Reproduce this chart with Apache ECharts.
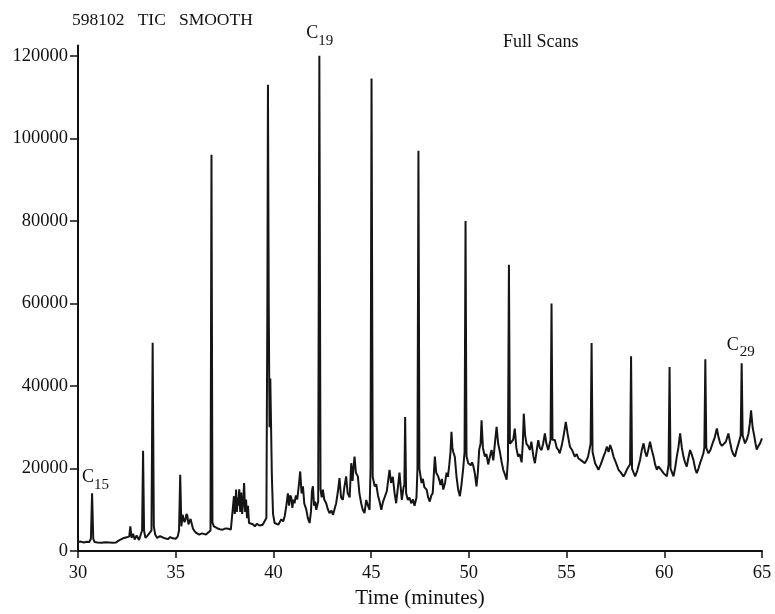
<!DOCTYPE html>
<html>
<head>
<meta charset="utf-8">
<script src="https://cdn.jsdelivr.net/npm/echarts@6/dist/echarts.min.js"></script>
<style>
html,body{margin:0;padding:0;background:#fff;}
#chart{width:775px;height:614px;}
</style>
</head>
<body>
<div id="chart"></div>
<script>
// TIC trace: [retention time (min), intensity]
const ticTrace = [
[30.00,2200],[30.15,2300],[30.30,2100],[30.45,2250],[30.58,2200],[30.66,3000],[30.72,14000],[30.78,3000],[30.85,2200],[31.00,2100],[31.20,2000],[31.40,2150],[31.60,2100],[31.80,2000],[31.95,2100],
[32.10,2600],[32.20,2800],[32.30,3100],[32.45,3300],[32.55,3000],[32.62,3500],[32.68,6000],[32.74,3200],[32.82,4200],[32.90,2800],[33.00,3800],[33.05,3600],[33.12,2700],[33.20,2900],[33.28,5000],[33.33,24300],[33.38,5000],[33.45,3200],[33.55,3700],[33.65,3300],[33.76,5000],[33.82,50500],[33.88,6000],[33.95,4000],[34.05,3200],[34.20,3600],[34.30,3300],[34.45,3100],[34.60,2900],[34.72,3400],[34.85,3100],[35.00,3000],[35.10,3500],[35.17,5000],[35.23,18500],[35.29,6000],[35.35,8800],[35.40,9200],[35.45,7000],[35.50,7600],[35.55,9000],[35.60,8500],[35.65,6500],[35.70,6900],[35.76,7800],[35.82,8000],[35.88,5500],[35.95,4900],[36.05,4400],[36.20,4000],[36.35,4300],[36.45,4200],[36.55,4000],[36.65,4100],[36.78,5000],[36.83,96000],[36.88,6900],[36.95,6000],[37.10,5600],[37.25,5300],[37.40,5200],[37.55,5500],[37.70,5400],[37.82,5200],[37.92,5600],
[37.98,13300],[38.02,9000],[38.05,10000],[38.09,14900],[38.13,9500],[38.17,13000],[38.20,11000],[38.25,15000],[38.30,9500],[38.35,14200],[38.40,9000],[38.45,12000],[38.50,16500],[38.55,9500],[38.60,12500],[38.65,8000],[38.70,11000],[38.75,6800],[38.85,7200],[38.95,6500],[39.05,6000],[39.15,6600],[39.30,6200],[39.45,6400],[39.55,6500],[39.64,8000],[39.69,60000],[39.72,113000],[39.76,60000],[39.80,30000],[39.84,41800],[39.88,30000],[39.92,18100],[39.98,9000],[40.06,6800],[40.15,7200],[40.25,6400],[40.32,7000],[40.40,7700],[40.50,7200],[40.58,8500],[40.66,11000],[40.74,14000],[40.80,11000],[40.86,13500],[40.91,13000],[40.97,10500],[41.02,12500],[41.08,11600],[41.15,13500],[41.22,12500],[41.30,16000],[41.37,19300],[41.44,14000],[41.51,15700],[41.58,11500],[41.68,10100],[41.76,8000],[41.85,6800],[41.92,9500],[41.97,14500],[42.02,15700],[42.08,11000],[42.14,12000],[42.19,10000],[42.29,12000],[42.35,120000],[42.41,14900],[42.47,13000],[42.53,14900],[42.60,12500],[42.70,11600],[42.78,10200],[42.87,9200],[42.97,9800],[43.05,8800],[43.13,8500],[43.21,11600],[43.30,14500],[43.38,17700],[43.46,13000],[43.55,12400],[43.63,15500],[43.72,18100],[43.80,14000],[43.90,13000],[43.98,21300],[44.05,17000],[44.10,20500],[44.15,22900],[44.22,19000],[44.32,18100],[44.40,14000],[44.49,11600],[44.57,10000],[44.66,9200],[44.75,12400],[44.84,11000],[44.92,10000],[44.97,20000],[45.02,114500],[45.08,18000],[45.18,15700],[45.26,16200],[45.35,13500],[45.43,12000],[45.52,10000],[45.60,11800],[45.69,11600],[45.80,14500],[45.94,19700],[46.02,16500],[46.11,18000],[46.20,14000],[46.28,11600],[46.36,15000],[46.45,19000],[46.52,15000],[46.57,12400],[46.66,15500],[46.70,16000],[46.74,32500],[46.79,14000],[46.88,12400],[46.96,13000],[47.05,11600],[47.14,12500],[47.22,11000],[47.32,13000],[47.37,20000],[47.42,97000],[47.47,20000],
[47.58,16500],[47.65,17500],[47.72,15500],[47.84,14900],[47.92,13000],[48.00,12000],[48.08,13500],[48.15,14000],[48.20,18000],[48.26,22900],[48.33,19000],[48.43,18100],[48.50,17000],[48.55,16000],[48.62,17500],[48.69,14900],[48.78,16500],[48.86,19000],[48.93,18000],[49.00,21000],[49.06,24000],[49.11,28900],[49.16,25000],[49.20,24000],[49.28,22900],[49.37,18000],[49.45,15000],[49.54,13300],[49.62,16000],[49.71,20000],[49.78,24000],[49.83,80000],[49.88,23000],[49.97,21300],[50.05,21500],[50.10,20800],[50.16,21500],[50.22,20800],[50.30,19000],[50.39,15700],[50.46,19000],[50.53,24600],[50.60,26000],[50.65,31700],[50.72,25000],[50.82,22900],[50.90,23500],[50.99,21000],[51.08,23000],[51.16,24500],[51.25,22000],[51.33,26000],[51.42,30100],[51.50,26000],[51.59,24000],[51.68,21500],[51.76,19700],[51.85,18500],[51.93,17300],[52.00,22000],[52.05,69400],[52.10,26000],[52.18,26100],[52.27,27000],[52.35,29700],[52.43,25000],[52.52,22900],[52.60,23500],[52.70,21500],[52.76,26000],[52.81,33300],[52.88,28000],[52.95,26000],[53.03,25500],[53.12,24500],[53.20,26500],[53.30,23000],[53.38,21300],[53.46,24000],[53.55,26900],[53.63,25000],[53.72,24500],[53.80,26000],[53.89,28500],[53.97,26000],[54.06,24500],[54.18,27000],[54.23,60000],[54.28,27000],[54.40,26900],[54.50,25000],[54.58,24500],[54.65,23700],[54.75,25500],[54.85,28000],[54.96,31300],[55.05,28500],[55.17,25300],[55.28,24500],[55.42,22900],[55.52,23500],[55.60,22500],[55.68,22100],[55.80,21800],[55.93,21300],[56.02,22000],[56.10,22900],[56.23,26000],[56.28,50400],[56.33,24000],[56.46,21300],[56.55,20500],[56.63,19700],[56.75,21000],[56.89,22900],[56.98,24000],[57.06,25300],[57.15,24000],[57.23,25700],[57.32,24500],[57.40,22900],[57.52,21500],[57.66,19700],[57.78,19000],[57.91,18100],[58.00,18800],[58.08,19700],[58.18,20500],[58.25,21000],[58.30,47200],[58.35,20000],[58.43,19000],[58.51,18100],[58.62,19500],[58.76,22100],[58.85,24500],[58.94,26100],[59.02,24000],[59.10,22900],[59.18,24500],[59.27,26500],[59.36,24500],[59.45,22900],[59.53,21000],[59.62,19700],[59.70,20500],[59.79,20500],[59.87,19500],[59.96,18900],[60.05,18500],[60.13,18100],[60.22,21000],[60.27,44600],[60.32,20000],[60.40,19000],[60.47,18100],[60.55,20000],[60.64,22900],[60.72,25000],[60.81,28500],[60.90,25000],[60.98,22900],[61.06,21500],[61.15,20500],[61.23,22500],[61.32,24500],[61.40,23500],[61.49,22100],[61.58,20000],[61.66,18900],[61.75,20000],[61.83,21300],[61.92,22500],[62.00,23700],[62.05,25000],[62.10,46500],[62.15,25000],[62.26,23700],[62.36,24500],[62.47,26100],[62.58,27500],[62.69,29700],[62.78,27500],[62.86,26100],[62.95,25500],[63.03,25300],[63.15,26500],[63.28,28500],[63.36,26500],[63.45,24500],[63.53,23500],[63.62,22900],[63.70,24500],[63.80,26100],[63.91,28000],[63.96,45500],[64.01,28000],[64.13,26100],[64.22,27000],[64.31,28500],[64.38,31000],[64.44,34100],[64.52,30000],[64.61,27700],[64.67,26000],[64.73,24600],[64.82,25500],[64.90,26100],[65.00,27300]
];
const xTicks = [30, 35, 40, 45, 50, 55, 60, 65];
const yTicks = [0, 20000, 40000, 60000, 80000, 100000, 120000];
// Labelled n-alkane peaks: [letter, subscript, time, intensity]
const peakLabels = [
  ['C', '15', 30.72, 14000],
  ['C', '19', 42.35, 120000],
  ['C', '29', 63.96, 45500]
];

const FONT = '"Liberation Serif", "DejaVu Serif", serif';
const chart = echarts.init(document.getElementById('chart'));

chart.setOption({
  animation: false,
  backgroundColor: '#ffffff',
  grid: { left: 78, right: 13, top: 45.5, bottom: 59, containLabel: false },
  xAxis: {
    type: 'value', min: 30, max: 65, interval: 5,
    name: 'Time (minutes)', nameLocation: 'middle', nameGap: 36,
    nameTextStyle: { fontFamily: FONT, fontSize: 21, color: '#111' },
    axisLine: { show: true, onZero: false, lineStyle: { color: '#111', width: 2 } },
    axisTick: { show: true, length: 7, lineStyle: { color: '#111', width: 1.5 }, customValues: xTicks },
    axisLabel: { fontFamily: FONT, fontSize: 18.5, color: '#111', margin: 13, customValues: xTicks },
    splitLine: { show: false }
  },
  yAxis: {
    type: 'value', min: 0, max: 122500, interval: 20000,
    axisLine: { show: true, lineStyle: { color: '#111', width: 2 } },
    axisTick: { show: true, length: 8, lineStyle: { color: '#111', width: 1.5 }, customValues: yTicks },
    axisLabel: { fontFamily: FONT, fontSize: 18.5, color: '#111', margin: 10, customValues: yTicks,
      formatter: v => String(v) },
    splitLine: { show: false }
  },
  series: [{
    type: 'line',
    data: ticTrace,
    symbol: 'none',
    lineStyle: { color: '#151515', width: 2 },
    clip: true
  }]
});

// annotation texts
const labelOffsets = [
  { cdx: -10, cdy: -16, sdx: 2, sdy: -8 },
  { cdx: -13, cdy: -23, sdx: -1, sdy: -15 },
  { cdx: -15, cdy: -18, sdx: -2, sdy: -11 }
];
const graphics = [
  { type: 'text', left: 72, top: 11, style: { text: '598102   TIC   SMOOTH', fontFamily: FONT, fontSize: 17.5, fill: '#111' } },
  { type: 'text', left: 503, top: 33, style: { text: 'Full Scans', fontFamily: FONT, fontSize: 18, fill: '#111' } }
];
peakLabels.forEach((p, i) => {
  const pt = chart.convertToPixel({ gridIndex: 0 }, [p[2], p[3]]);
  const o = labelOffsets[i];
  graphics.push({ type: 'text', x: pt[0] + o.cdx, y: pt[1] + o.cdy,
    style: { text: p[0], fontFamily: FONT, fontSize: 18, fill: '#111', verticalAlign: 'middle' } });
  graphics.push({ type: 'text', x: pt[0] + o.sdx, y: pt[1] + o.sdy,
    style: { text: p[1], fontFamily: FONT, fontSize: 15, fill: '#111', verticalAlign: 'middle' } });
});
chart.setOption({ graphic: graphics });
</script>
</body>
</html>
